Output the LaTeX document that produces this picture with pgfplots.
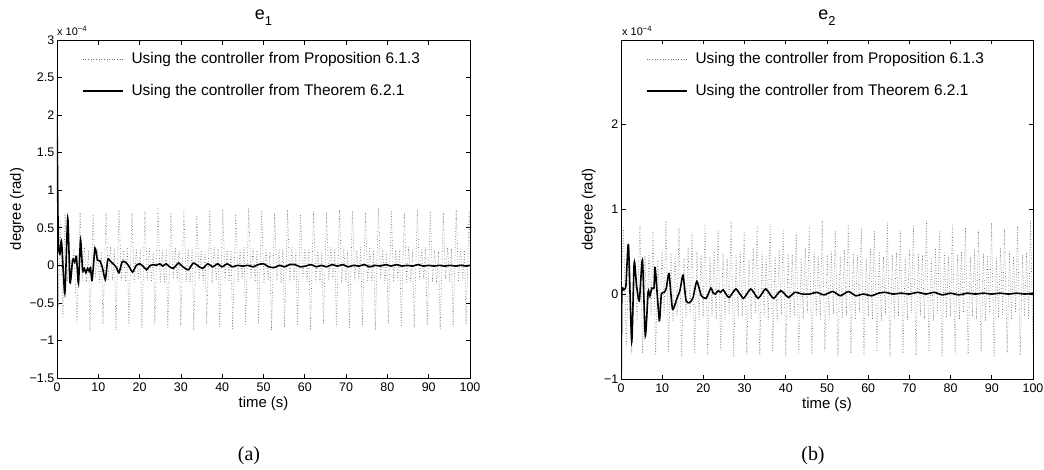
\documentclass[border=0pt]{standalone}
\usepackage{pgfplots}
\pgfplotsset{compat=1.18}
\usepackage{fontspec}
\setmainfont{Liberation Sans}
\newfontfamily\capfont{Liberation Serif}

\pgfplotsset{
  errplot/.style={
    scale only axis,
    xmin=0, xmax=100, xtick={0,10,...,100},
    tick align=inside, major tick length=4.5bp,
    axis line style={line width=0.9bp},
    every tick/.style={black, line width=0.7bp},
    /pgf/number format/assume math mode=true,
    ticklabel style={font=\fontsize{12.5}{12.5}\selectfont},
    xticklabel style={inner sep=0pt, yshift=-5bp},
    yticklabel style={inner sep=0pt, xshift=-2.5bp},
    xlabel={time (s)}, ylabel={degree (rad)},
    label style={font=\fontsize{15}{15}\selectfont},
    xlabel style={at={(axis description cs:0.5,0)}, anchor=base, yshift=-29bp},
    title style={at={(axis description cs:0.5,1)}, anchor=base, yshift=15bp,
                 font=\fontsize{18}{18}\selectfont},
    legend cell align=left,
    legend image code/.code={\draw[#1] (0bp,0bp) -- (40bp,0bp);},
    legend style={at={(axis description cs:0.0605,1)}, anchor=north west,
      yshift=-12.7bp, draw=none, fill=none, inner sep=0pt, outer sep=0pt,
      row sep=19.4bp, column sep=8bp, font=\fontsize{15.5}{15.5}\selectfont,
      nodes={inner sep=0pt}},
  },
  prop/.style={color=black!55, dotted, line width=0.65bp},
  thm/.style={color=black, solid, line width=1.6bp, smooth, tension=0.35},
}

\begin{document}
\begin{tikzpicture}
\path[use as bounding box] (0,0) rectangle (1044bp,-470bp);

% ---------------- e_1 ----------------
\begin{axis}[errplot,
  at={(57bp,-378bp)}, anchor=south west, width=413bp, height=338bp,
  ymin=-1.5, ymax=3,
  ytick={-1.5,-1,-0.5,0,0.5,1,1.5,2,2.5,3},
  yticklabels={−1.5,−1,−0.5,0,0.5,1,1.5,2,2.5,3},
  ylabel style={at={(axis description cs:-0.097,0.5)}, anchor=center},
  title={e\raisebox{-0.38em}{\fontsize{13}{13}\selectfont 1}},
]
\addplot[prop] coordinates {
(0,2.05) (0.35,-0.55) (0.75,0.60) (1.45,-0.68) (1.95,0.70) (2.5,-0.22) (3.0,0.18) (3.5,-0.20) (4.1,0.22)
(4.85,-0.75) (5.60,0.72) (6.15,-0.20) (6.65,0.24) (7.15,-0.22) (7.60,0.20)
(7.99,-0.86) (8.74,0.68) (9.29,-0.18) (9.79,0.22) (10.29,-0.24) (10.74,0.18)
(11.13,-0.78) (11.88,0.70) (12.43,-0.22) (12.93,0.25) (13.43,-0.20) (13.88,0.22)
(14.27,-0.86) (15.02,0.74) (15.57,-0.20) (16.07,0.20) (16.57,-0.22) (17.02,0.24)
(17.41,-0.80) (18.16,0.70) (18.71,-0.24) (19.21,0.22) (19.71,-0.18) (20.16,0.20)
(20.55,-0.84) (21.30,0.72) (21.85,-0.20) (22.35,0.24) (22.85,-0.22) (23.30,0.18)
(23.69,-0.78) (24.44,0.76) (24.99,-0.22) (25.49,0.20) (25.99,-0.24) (26.44,0.22)
(26.83,-0.84) (27.58,0.70) (28.13,-0.18) (28.63,0.24) (29.13,-0.20) (29.58,0.20)
(29.97,-0.80) (30.72,0.74) (31.27,-0.22) (31.77,0.22) (32.27,-0.22) (32.72,0.24)
(33.11,-0.86) (33.86,0.68) (34.41,-0.20) (34.91,0.20) (35.41,-0.24) (35.86,0.18)
(36.25,-0.78) (37.00,0.72) (37.55,-0.24) (38.05,0.24) (38.55,-0.20) (39.00,0.22)
(39.39,-0.82) (40.14,0.74) (40.69,-0.20) (41.19,0.22) (41.69,-0.22) (42.14,0.20)
(42.53,-0.86) (43.28,0.70) (43.83,-0.22) (44.33,0.20) (44.83,-0.18) (45.28,0.24)
(45.67,-0.80) (46.42,0.76) (46.97,-0.18) (47.47,0.24) (47.97,-0.22) (48.42,0.20)
(48.81,-0.78) (49.56,0.72) (50.11,-0.24) (50.61,0.22) (51.11,-0.20) (51.56,0.18)
(51.95,-0.86) (52.70,0.70) (53.25,-0.20) (53.75,0.20) (54.25,-0.24) (54.70,0.22)
(55.09,-0.82) (55.84,0.74) (56.39,-0.22) (56.89,0.24) (57.39,-0.20) (57.84,0.20)
(58.23,-0.80) (58.98,0.68) (59.53,-0.18) (60.03,0.22) (60.53,-0.22) (60.98,0.24)
(61.37,-0.86) (62.12,0.72) (62.67,-0.22) (63.17,0.20) (63.67,-0.24) (64.12,0.18)
(64.51,-0.78) (65.26,0.70) (65.81,-0.20) (66.31,0.24) (66.81,-0.20) (67.26,0.22)
(67.65,-0.82) (68.40,0.74) (68.95,-0.24) (69.45,0.22) (69.95,-0.22) (70.40,0.20)
(70.79,-0.84) (71.54,0.72) (72.09,-0.20) (72.59,0.20) (73.09,-0.18) (73.54,0.24)
(73.93,-0.80) (74.68,0.70) (75.23,-0.22) (75.73,0.24) (76.23,-0.22) (76.68,0.20)
(77.07,-0.86) (77.82,0.76) (78.37,-0.18) (78.87,0.22) (79.37,-0.24) (79.82,0.18)
(80.21,-0.78) (80.96,0.72) (81.51,-0.22) (82.01,0.20) (82.51,-0.20) (82.96,0.22)
(83.35,-0.82) (84.10,0.70) (84.65,-0.24) (85.15,0.24) (85.65,-0.22) (86.10,0.20)
(86.49,-0.84) (87.24,0.74) (87.79,-0.20) (88.29,0.22) (88.79,-0.18) (89.24,0.24)
(89.63,-0.80) (90.38,0.72) (90.93,-0.22) (91.43,0.20) (91.93,-0.24) (92.38,0.18)
(92.77,-0.86) (93.52,0.70) (94.07,-0.18) (94.57,0.24) (95.07,-0.22) (95.52,0.22)
(95.91,-0.82) (96.66,0.74) (97.21,-0.22) (97.71,0.22) (98.21,-0.20) (98.66,0.20)
(99.05,-0.80) (99.80,0.72) (100,0.30)
};
\addlegendentry{Using the controller from Proposition 6.1.3}
\addplot[thm] coordinates {
(0,2.0) (0.3,0.35) (0.7,0.15) (1.1,0.32) (1.9,-0.37) (2.6,0.63) (3.15,-0.23) (3.8,0.08)
(4.3,0.04) (4.7,0.12) (5.2,-0.24) (5.7,0.34) (6.2,-0.07) (6.6,-0.04) (7.0,-0.10) (7.4,-0.04)
(7.8,-0.08) (8.1,-0.03) (8.5,-0.20) (9.2,0.23) (9.8,0.07) (10.4,0.06) (11.0,-0.03) (11.7,-0.19)
(12.3,0.08) (13.0,0.05) (13.8,0.01) (14.4,-0.03) (15.0,-0.10) (15.8,0.05) (16.6,0.04) (17.4,-0.01)
(18.3,-0.09) (19.2,0.00) (20.1,0.02) (21.0,-0.02) (21.7,-0.06) (22.4,-0.01) (23.3,0.01) (24.0,0.00)
(24.9,0.02) (25.6,-0.01) (26.4,0.02) (27.3,-0.02) (28.2,-0.04) (29.4,0.03) (30.5,-0.02) (31.8,-0.06)
(33.0,0.03) (34.2,-0.01) (35.3,-0.04) (36.5,0.02) (37.7,-0.02) (38.9,0.02) (40.0,-0.02) (41.2,0.02)
(42.5,-0.02) (43.7,0.00) (45.0,-0.01) (46.2,0.00) (47.5,-0.02) (48.7,0.01) (50.0,0.02) (51.3,-0.02)
(52.6,-0.03) (53.9,0.00) (55.1,-0.02) (56.3,0.01) (57.6,0.01) (58.9,-0.02) (60.2,-0.01) (61.5,0.01)
(62.8,-0.02) (64.0,0.00) (65.3,-0.02) (66.6,0.01) (67.9,-0.01) (69.2,0.01) (70.5,-0.02) (71.8,0.00)
(73.1,-0.01) (74.4,0.01) (75.7,-0.02) (77.0,0.00) (78.3,-0.01) (79.6,0.01) (80.9,-0.01) (82.2,0.01)
(83.5,-0.01) (84.8,0.00) (86.1,-0.01) (87.4,0.01) (88.7,-0.01) (90.0,0.00) (91.3,-0.01) (92.6,0.00)
(93.9,-0.01) (95.2,0.00) (96.5,-0.01) (97.8,0.00) (99.1,-0.01) (100,0.00)
};
\addlegendentry{Using the controller from Theorem 6.2.1}
\end{axis}
\node[anchor=base west, inner sep=0pt, font=\fontsize{11}{11}\selectfont]
  at (57bp,-35bp) {x 10\textsuperscript{−4}};
\node[font=\capfont\fontsize{20}{20}\selectfont] at (249bp,-456bp) {(a)};

% ---------------- e_2 ----------------
\begin{axis}[errplot,
  at={(621bp,-379bp)}, anchor=south west, width=412bp, height=339bp,
  ymin=-1, ymax=2.99,
  ytick={-1,0,1,2},
  yticklabels={−1,0,1,2},
  ylabel style={at={(axis description cs:-0.078,0.5)}, anchor=center},
  title={e\raisebox{-0.38em}{\fontsize{13}{13}\selectfont 2}},
]
\addplot[prop] coordinates {
(0,0.00) (0.6,0.78) (1.3,-0.62) (2.0,0.55) (2.6,-0.70) (3.3,0.42) (3.9,-0.30)
(4.60,0.80) (5.25,-0.70) (5.80,0.45) (6.30,-0.30) (6.80,0.50) (7.30,-0.25)
(7.76,0.74) (8.41,-0.72) (8.96,0.40) (9.46,-0.28) (9.96,0.52) (10.46,-0.22)
(10.92,0.86) (11.57,-0.68) (12.12,0.48) (12.62,-0.32) (13.12,0.45) (13.62,-0.26)
(14.08,0.78) (14.73,-0.74) (15.28,0.42) (15.78,-0.28) (16.28,0.55) (16.78,-0.24)
(17.24,0.72) (17.89,-0.70) (18.44,0.50) (18.94,-0.30) (19.44,0.46) (19.94,-0.28)
(20.40,0.82) (21.05,-0.72) (21.60,0.44) (22.10,-0.26) (22.60,0.52) (23.10,-0.30)
(23.56,0.76) (24.21,-0.66) (24.76,0.48) (25.26,-0.32) (25.76,0.42) (26.26,-0.24)
(26.72,0.86) (27.37,-0.74) (27.92,0.46) (28.42,-0.28) (28.92,0.50) (29.42,-0.26)
(29.88,0.74) (30.53,-0.70) (31.08,0.40) (31.58,-0.30) (32.08,0.54) (32.58,-0.22)
(33.04,0.80) (33.69,-0.72) (34.24,0.50) (34.74,-0.26) (35.24,0.44) (35.74,-0.30)
(36.20,0.84) (36.85,-0.68) (37.40,0.44) (37.90,-0.32) (38.40,0.52) (38.90,-0.24)
(39.36,0.76) (40.01,-0.74) (40.56,0.48) (41.06,-0.28) (41.56,0.46) (42.06,-0.26)
(42.52,0.72) (43.17,-0.70) (43.72,0.42) (44.22,-0.30) (44.72,0.54) (45.22,-0.22)
(45.68,0.80) (46.33,-0.72) (46.88,0.50) (47.38,-0.26) (47.88,0.44) (48.38,-0.30)
(48.84,0.86) (49.49,-0.68) (50.04,0.46) (50.54,-0.32) (51.04,0.50) (51.54,-0.24)
(52.00,0.74) (52.65,-0.74) (53.20,0.44) (53.70,-0.28) (54.20,0.52) (54.70,-0.26)
(55.16,0.82) (55.81,-0.70) (56.36,0.48) (56.86,-0.30) (57.36,0.46) (57.86,-0.22)
(58.32,0.78) (58.97,-0.72) (59.52,0.42) (60.02,-0.26) (60.52,0.54) (61.02,-0.30)
(61.48,0.74) (62.13,-0.68) (62.68,0.50) (63.18,-0.32) (63.68,0.44) (64.18,-0.24)
(64.64,0.84) (65.29,-0.74) (65.84,0.46) (66.34,-0.28) (66.84,0.50) (67.34,-0.26)
(67.80,0.76) (68.45,-0.70) (69.00,0.44) (69.50,-0.30) (70.00,0.52) (70.50,-0.22)
(70.96,0.80) (71.61,-0.72) (72.16,0.48) (72.66,-0.26) (73.16,0.46) (73.66,-0.30)
(74.12,0.86) (74.77,-0.68) (75.32,0.42) (75.82,-0.32) (76.32,0.54) (76.82,-0.24)
(77.28,0.74) (77.93,-0.74) (78.48,0.50) (78.98,-0.28) (79.48,0.44) (79.98,-0.26)
(80.44,0.82) (81.09,-0.70) (81.64,0.46) (82.14,-0.30) (82.64,0.50) (83.14,-0.22)
(83.60,0.78) (84.25,-0.72) (84.80,0.44) (85.30,-0.26) (85.80,0.52) (86.30,-0.30)
(86.76,0.74) (87.41,-0.68) (87.96,0.48) (88.46,-0.32) (88.96,0.46) (89.46,-0.24)
(89.92,0.84) (90.57,-0.74) (91.12,0.42) (91.62,-0.28) (92.12,0.54) (92.62,-0.26)
(93.08,0.76) (93.73,-0.70) (94.28,0.50) (94.78,-0.30) (95.28,0.44) (95.78,-0.22)
(96.24,0.80) (96.89,-0.72) (97.44,0.46) (97.94,-0.26) (98.44,0.50) (98.94,-0.30)
(99.40,0.86) (100,-0.60)
};
\addlegendentry{Using the controller from Proposition 6.1.3}
\addplot[thm] coordinates {
(0,-1.3) (0.2,0.00) (0.7,0.05) (1.2,0.10) (1.8,0.58) (2.6,-0.56) (3.2,0.37) (3.8,0.09)
(4.45,-0.08) (5.2,0.40) (5.9,-0.49) (6.6,0.03) (7.0,-0.02) (7.5,0.07) (8.0,0.07) (8.3,0.31)
(9.3,-0.31) (9.8,0.00) (10.5,0.02) (11.0,0.07) (11.65,0.24) (12.5,-0.18) (13.5,-0.06) (14.3,0.04)
(15.05,0.22) (15.8,-0.08) (16.7,-0.10) (17.5,-0.04) (18.4,0.15) (19.5,-0.02) (20.7,-0.05) (21.8,0.07)
(22.4,0.01) (22.9,0.00) (23.6,0.04) (24.1,0.02) (24.8,0.05) (25.6,-0.01) (26.3,-0.04) (27.9,0.06)
(29.7,-0.05) (31.5,0.06) (33.3,-0.05) (35.1,0.06) (37.0,-0.05) (38.8,0.04) (40.6,-0.04) (42.2,0.02)
(44.0,0.00) (45.8,0.00) (47.5,0.02) (49.3,-0.01) (51.4,0.03) (53.2,-0.02) (55.2,0.03) (57.0,-0.02)
(58.8,0.00) (60.8,-0.02) (62.5,0.01) (64.2,0.02) (66.0,0.00) (68.0,0.01) (70.0,0.00) (72.0,0.02)
(74.0,0.00) (76.0,0.02) (78.0,-0.01) (80.0,0.01) (82.0,-0.01) (84.0,0.01) (86.0,0.00) (88.0,0.01)
(90.0,0.00) (92.0,0.01) (94.0,0.00) (96.0,0.01) (98.0,0.00) (100,0.01)
};
\addlegendentry{Using the controller from Theorem 6.2.1}
\end{axis}
\node[anchor=base west, inner sep=0pt, font=\fontsize{11}{11}\selectfont]
  at (622bp,-35bp) {x 10\textsuperscript{−4}};
\node[font=\capfont\fontsize{20}{20}\selectfont] at (813bp,-456bp) {(b)};
\end{tikzpicture}
\end{document}
